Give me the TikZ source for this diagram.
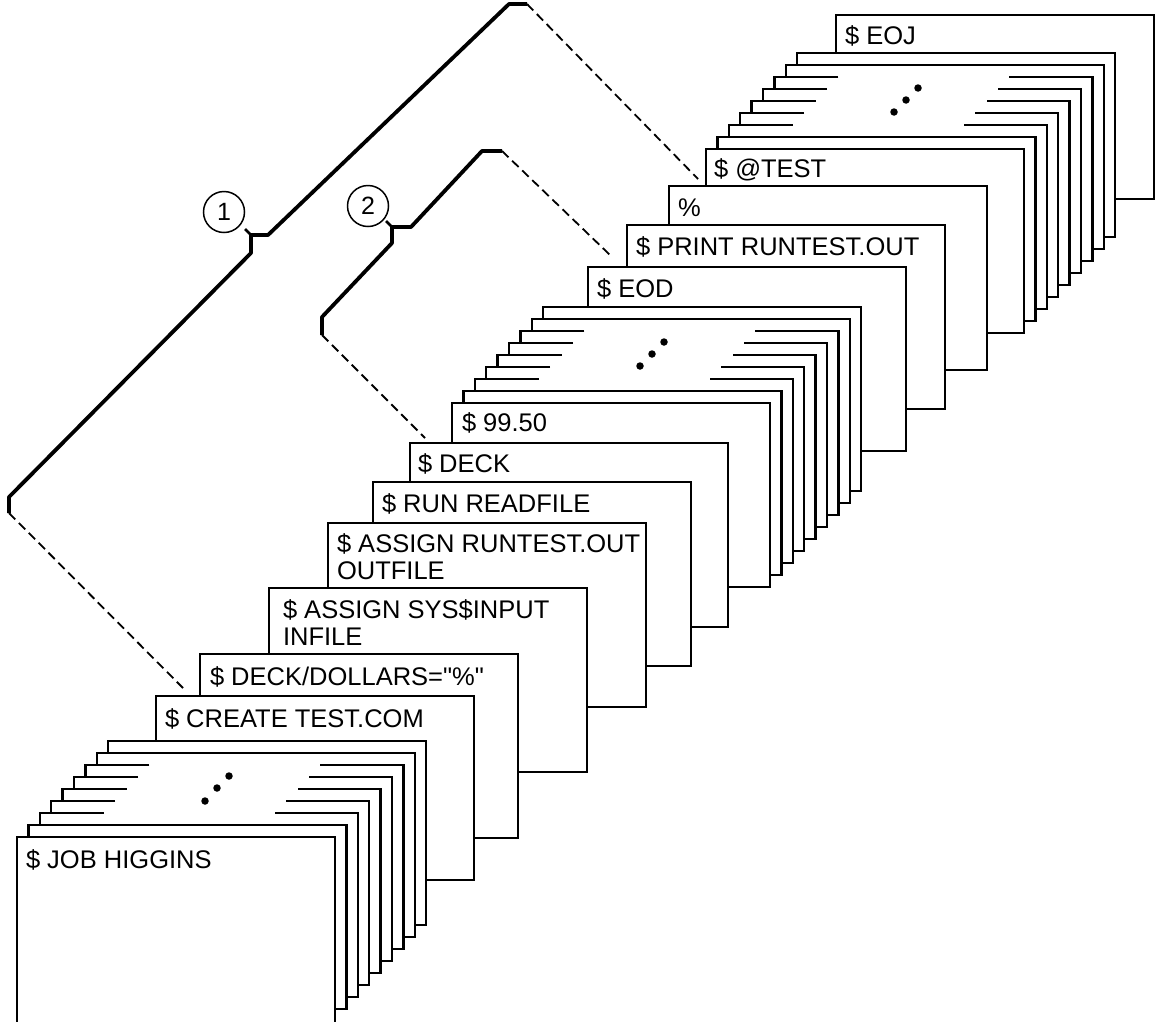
\documentclass[tikz,border=0pt]{standalone}
\usepackage{fontspec}
\setmainfont{Liberation Sans}[Ligatures=TeXOff]
\tikzset{
  cardbody/.style={anchor=north west, minimum width=318pt, minimum height=184pt, inner sep=0pt, outer sep=0pt, fill=white, draw=none},
  card/.style={cardbody, draw=black, line width=2.3pt},
  cardedge/.style={line width=2.3pt, line cap=butt, line join=miter},
  cardtext/.style={anchor=base west, inner sep=0pt, outer sep=0pt, font=\fontsize{25.5}{27}\selectfont},
  stackdot/.style={circle, fill=black, draw=none, inner sep=0pt, minimum size=7.5pt},
  bracket/.style={line width=3.8pt, line join=bevel},
  leader/.style={line width=1.8pt, dash pattern=on 9pt off 5pt},
  callnum/.style={circle, draw=black, line width=1.5pt, minimum size=41pt, inner sep=0pt, fill=white, font=\fontsize{25}{25}\selectfont},
}
\newcommand\cardstack[3]{%
  \foreach \k in {8,7,...,1}{%
    \pgfmathsetmacro\cx{#2+11.4*\k}%
    \pgfmathsetmacro\cy{#3-12*\k}%
    \ifnum\k>1\relax
      \ifnum\k<7\relax
        \node[cardbody] (#1\k) at (\cx,\cy) {};
        \draw[cardedge] ([xshift=64pt]#1\k.north west) -- (#1\k.north west) -- (#1\k.south west) -- (#1\k.south east) -- (#1\k.north east) -- ([xshift=-83pt]#1\k.north east);
      \else
        \node[card] (#1\k) at (\cx,\cy) {};
      \fi
    \else
      \node[card] (#1\k) at (\cx,\cy) {};
    \fi
  }%
}
\newcommand\dq{\symbol{34}}
\begin{document}
\begin{tikzpicture}[x=1pt,y=-1pt]
\useasboundingbox (0,0) rectangle (1155,1021);

% ---- back group
\node[card] (eoj) at (836,15) {};
\node[cardtext] (teoj) at ([shift={(9,29)}]eoj.north west) {\$ EOJ};

\cardstack{d}{706}{149}
\node[card] (test) at (706,149) {};
\node[cardtext] (ttest) at ([shift={(8,28)}]test.north west) {\$ @TEST};

\node[card] (pct) at (669,186) {};
\node[cardtext] (tpct) at ([shift={(9,30)}]pct.north west) {\%};

\node[card] (print) at (627,225) {};
\node[cardtext] (tprint) at ([shift={(9,30)}]print.north west) {\$ PRINT RUNTEST.OUT};

\node[card] (eod) at (588,267) {};
\node[cardtext] (teod) at ([shift={(9,30)}]eod.north west) {\$ EOD};

% ---- middle group
\cardstack{c}{452}{403}
\node[card] (amt) at (452,403) {};
\node[cardtext] (tamt) at ([shift={(10,28)}]amt.north west) {\$ 99.50};

\node[card] (deck) at (410,443) {};
\node[cardtext] (tdeck) at ([shift={(8,29)}]deck.north west) {\$ DECK};

\node[card] (run) at (373,482) {};
\node[cardtext] (trun) at ([shift={(9,30)}]run.north west) {\$ RUN READFILE};

\node[card] (asout) at (328,523) {};
\node[cardtext] (tasouta) at ([shift={(9,29)}]asout.north west) {\$ ASSIGN RUNTEST.OUT};
\node[cardtext] (tasoutb) at ([shift={(9,56)}]asout.north west) {OUTFILE};

\node[card] (asin) at (269,588) {};
\node[cardtext] (tasina) at ([shift={(14,30)}]asin.north west) {\$ ASSIGN SYS\$INPUT};
\node[cardtext] (tasinb) at ([shift={(14,57)}]asin.north west) {INFILE};

\node[card] (ddol) at (200,654) {};
\node[cardtext] (tddol) at ([shift={(10,31)}]ddol.north west) {\$ DECK/DOLLARS=\dq\%\dq};

\node[card] (create) at (156,696) {};
\node[cardtext] (tcreate) at ([shift={(9,31)}]create.north west) {\$ CREATE TEST.COM};

% ---- front group
\cardstack{a}{17}{837}
\node[card, minimum height=220pt] (job) at (17,837) {};
\node[cardtext] (tjob) at ([shift={(9,31)}]job.north west) {\$ JOB HIGGINS};

% ---- continuation dots
\node[stackdot] (ad1) at (205,801) {};
\node[stackdot] (ad2) at (217,788) {};
\node[stackdot] (ad3) at (229,776) {};
\node[stackdot] (cd1) at (640,366) {};
\node[stackdot] (cd2) at (652,354) {};
\node[stackdot] (cd3) at (664,342) {};
\node[stackdot] (dd1) at (894,112) {};
\node[stackdot] (dd2) at (906,100) {};
\node[stackdot] (dd3) at (918,88) {};

% ---- bracket 1
\coordinate (b1a) at (183,688);
\coordinate (b1b) at (9,513);
\coordinate (b1c) at (9,497);
\coordinate (b1d) at (251,253);
\coordinate (b1e) at (251,235);
\coordinate (b1f) at (268,235);
\coordinate (b1g) at (509,4);
\coordinate (b1h) at (527,4);
\coordinate (b1i) at (698,179);
\draw[leader] (b1b) -- (b1a);
\draw[bracket] (b1b) -- (b1c) -- (b1d) -- (b1e) -- (b1f) -- (b1g) -- (b1h);
\draw[leader] (b1h) -- (b1i);
\draw[bracket, line width=2.8pt] (b1e) -- ++(-6,-6);
\node[callnum] (n1) at (224,212) {1};

% ---- bracket 2
\coordinate (b2a) at (425,438);
\coordinate (b2b) at (322,335);
\coordinate (b2c) at (322,317);
\coordinate (b2d) at (392,243);
\coordinate (b2e) at (392,227);
\coordinate (b2f) at (411,227);
\coordinate (b2g) at (482,151);
\coordinate (b2h) at (502,151);
\coordinate (b2i) at (610,255);
\draw[leader] (b2b) -- (b2a);
\draw[bracket] (b2b) -- (b2c) -- (b2d) -- (b2e) -- (b2f) -- (b2g) -- (b2h);
\draw[leader] (b2h) -- (b2i);
\draw[bracket, line width=2.8pt] (b2e) -- ++(-6,-6);
\node[callnum] (n2) at (368,206) {2};
\end{tikzpicture}
\end{document}
